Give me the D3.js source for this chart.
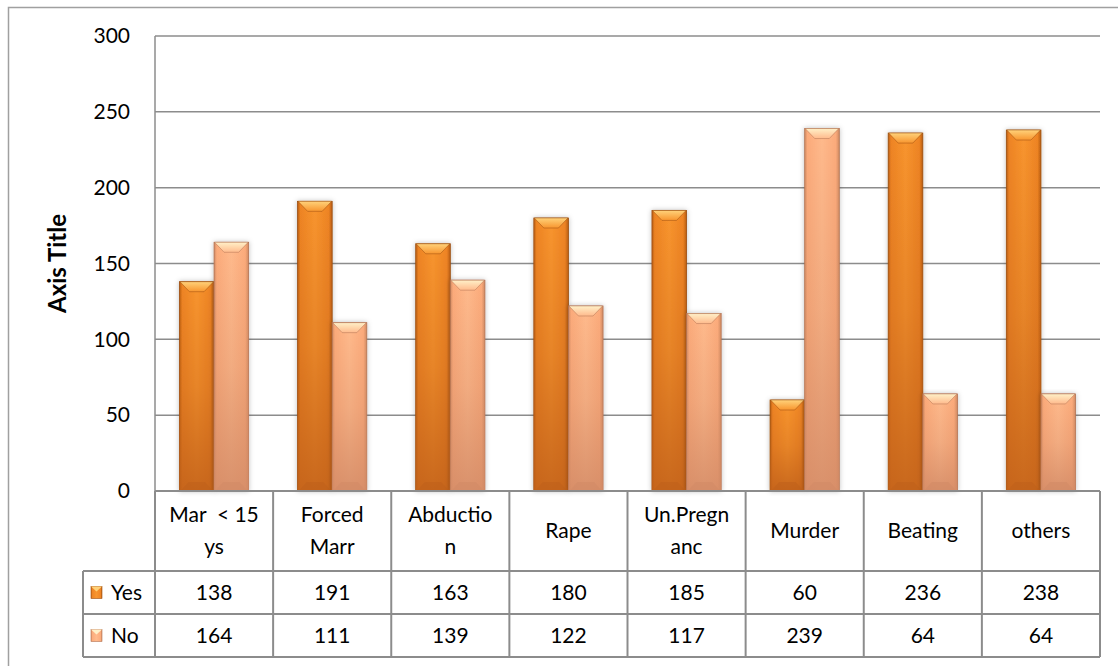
<!DOCTYPE html>
<html>
<head>
<meta charset="utf-8">
<script src="https://cdn.jsdelivr.net/npm/d3@7"></script>
<style>
  body { margin: 0; background: #fff; }
  svg text { font-family: Lato, "Open Sans", sans-serif; fill: #000; white-space: pre; }
</style>
</head>
<body>
<div id="chart"></div>
<script>
// data
var categories = ["Mar  < 15 ys", "Forced Marr", "Abduction", "Rape", "Un.Pregnanc", "Murder", "Beating", "others"];
var catLines = [["Mar  < 15", "ys"], ["Forced", "Marr"], ["Abductio", "n"], ["Rape"], ["Un.Pregn", "anc"], ["Murder"], ["Beating"], ["others"]];
var series = ["Yes", "No"];
var yesValues = [138, 191, 163, 180, 185, 60, 236, 238];
var noValues = [164, 111, 139, 122, 117, 239, 64, 64];
var yTicks = [0, 50, 100, 150, 200, 250, 300];

var w = 1118, h = 666;
var plot = {left: 155, right: 1100, top: 36, bottom: 491};
var gray = "#8c8c8c";
var fs = 21;

var svg = d3.select("#chart").append("svg")
    .attr("width", w)
    .attr("height", h);

var defs = svg.append("defs");

// side shading + top/bottom gradients for each series
var pal = {
  Yes: {light: "#f8952e", mid: "#ee8424", dark: "#b85d12", edge: "#9c4e10", top: "#ffd27a", low: "#c0601a"},
  No:  {light: "#ffba8c", mid: "#fcab7b", dark: "#cf8a62", edge: "#b27252", top: "#fff0c8", low: "#d28a66"}
};
series.forEach(function(s){
  var p = pal[s];
  var g = defs.append("linearGradient").attr("id", "side" + s)
      .attr("x1", 0).attr("x2", 1).attr("y1", 0).attr("y2", 0);
  g.append("stop").attr("offset", "0").attr("stop-color", p.dark);
  g.append("stop").attr("offset", "0.08").attr("stop-color", p.mid);
  g.append("stop").attr("offset", "0.5").attr("stop-color", p.light);
  g.append("stop").attr("offset", "0.9").attr("stop-color", p.mid);
  g.append("stop").attr("offset", "1").attr("stop-color", p.dark);
  var v = defs.append("linearGradient").attr("id", "vert" + s)
      .attr("x1", 0).attr("x2", 0).attr("y1", 0).attr("y2", 1);
  v.append("stop").attr("offset", "0").attr("stop-color", p.low).attr("stop-opacity", 0);
  v.append("stop").attr("offset", "0.5").attr("stop-color", p.low).attr("stop-opacity", 0.3);
  v.append("stop").attr("offset", "1").attr("stop-color", p.low).attr("stop-opacity", 0.85);
  var t = defs.append("linearGradient").attr("id", "top" + s)
      .attr("x1", 0).attr("x2", 0).attr("y1", 0).attr("y2", 1);
  t.append("stop").attr("offset", "0").attr("stop-color", p.top);
  t.append("stop").attr("offset", "1").attr("stop-color", p.light);
});

var shadow = defs.append("filter").attr("id", "shadow")
    .attr("x", "-20%").attr("y", "-5%").attr("width", "140%").attr("height", "110%");
shadow.append("feDropShadow").attr("dx", 0).attr("dy", 0).attr("stdDeviation", 2.5)
    .attr("flood-color", "#000").attr("flood-opacity", 0.25);

// outer chart border
svg.append("rect")
    .attr("x", 8.5).attr("y", 7.5)
    .attr("width", 1130).attr("height", 700)
    .attr("fill", "none").attr("stroke", "#a0a0a0").attr("stroke-width", 1.5);

var x = d3.scaleBand().domain(categories).range([plot.left, plot.right]).paddingInner(0).paddingOuter(0);
var x1 = d3.scaleBand().domain(series)
    .range([x.bandwidth() * 0.207, x.bandwidth() * 0.793]).padding(0);
var y = d3.scaleLinear().domain([0, 300]).range([plot.bottom, plot.top]);

// gridlines
svg.append("g").selectAll("line")
  .data(yTicks.filter(function(d){ return d > 0; }))
  .enter().append("line")
    .attr("x1", plot.left).attr("x2", plot.right)
    .attr("y1", function(d){ return y(d); })
    .attr("y2", function(d){ return y(d); })
    .attr("stroke", gray).attr("stroke-width", 1.5);

// y axis line
svg.append("line")
    .attr("x1", plot.left).attr("x2", plot.left)
    .attr("y1", plot.top).attr("y2", plot.bottom)
    .attr("stroke", gray).attr("stroke-width", 1.5);

// y tick labels
var yAxis = d3.axisLeft(y).tickValues(yTicks).tickSize(0).tickPadding(25);
var yg = svg.append("g").attr("transform", "translate(" + plot.left + ",0)").call(yAxis);
yg.select(".domain").remove();
yg.selectAll("text")
    .style("font-family", "Lato, sans-serif")
    .attr("font-size", fs).attr("fill", "#000");

// axis title
svg.append("text")
    .attr("transform", "translate(66," + ((plot.top + plot.bottom) / 2) + ") rotate(-90)")
    .attr("text-anchor", "middle")
    .attr("font-size", 24)
    .attr("font-weight", "bold")
    .text("Axis Title");

// bars
var rows = categories.map(function(c, i){
  return [{cat: c, s: "Yes", v: yesValues[i]}, {cat: c, s: "No", v: noValues[i]}];
});
var bars = svg.append("g").selectAll("g.cat")
  .data(rows).enter().append("g")
    .attr("transform", function(d){ return "translate(" + x(d[0].cat) + ",0)"; })
  .selectAll("g.bar")
  .data(function(d){ return d; }).enter().append("g");

bars.append("rect")
    .attr("x", function(d){ return x1(d.s); })
    .attr("y", function(d){ return y(d.v); })
    .attr("width", x1.bandwidth())
    .attr("height", function(d){ return plot.bottom - y(d.v); })
    .attr("fill", function(d){ return "url(#side" + d.s + ")"; })
    .attr("stroke", function(d){ return pal[d.s].edge; })
    .attr("stroke-width", 0.8)
    .attr("filter", "url(#shadow)");

bars.append("rect")
    .attr("x", function(d){ return x1(d.s); })
    .attr("y", function(d){ return y(d.v); })
    .attr("width", x1.bandwidth())
    .attr("height", function(d){ return plot.bottom - y(d.v); })
    .attr("fill", function(d){ return "url(#vert" + d.s + ")"; });

// bevel at the top
bars.append("path")
    .attr("d", function(d){
      var x0 = x1(d.s), bw = x1.bandwidth(), t = y(d.v);
      return "M" + (x0 + 0.5) + "," + t + "L" + (x0 + bw - 0.5) + "," + t +
             "L" + (x0 + bw - 10) + "," + (t + 10) + "L" + (x0 + 10) + "," + (t + 10) + "Z";
    })
    .attr("fill", function(d){ return "url(#top" + d.s + ")"; })
    .attr("stroke", function(d){ return pal[d.s].edge; })
    .attr("stroke-width", 0.5);

// bevel at the bottom
bars.append("path")
    .attr("d", function(d){
      var x0 = x1(d.s), bw = x1.bandwidth(), b = plot.bottom;
      return "M" + (x0 + 1) + "," + b + "L" + (x0 + bw - 1) + "," + b +
             "L" + (x0 + bw - 9) + "," + (b - 9) + "L" + (x0 + 9) + "," + (b - 9) + "Z";
    })
    .attr("fill", function(d){ return pal[d.s].low; })
    .attr("opacity", 0.6);

// data table
var rowY = {catTop: plot.bottom, yesTop: 571, noTop: 614, bottom: 657};
var tableLeft = 83;
var tg = svg.append("g");

// horizontal lines
[[plot.left, rowY.catTop], [tableLeft, rowY.yesTop], [tableLeft, rowY.noTop], [tableLeft, rowY.bottom]]
  .forEach(function(p){
    tg.append("line")
      .attr("x1", p[0]).attr("x2", plot.right)
      .attr("y1", p[1]).attr("y2", p[1])
      .attr("stroke", gray).attr("stroke-width", 2);
  });

// vertical lines
var bounds = categories.map(function(c){ return x(c); }).concat([plot.right]);
tg.selectAll("line.v").data(bounds).enter().append("line")
    .attr("x1", function(d){ return d; }).attr("x2", function(d){ return d; })
    .attr("y1", rowY.catTop).attr("y2", rowY.bottom)
    .attr("stroke", gray).attr("stroke-width", 2);
tg.append("line")
    .attr("x1", tableLeft).attr("x2", tableLeft)
    .attr("y1", rowY.yesTop).attr("y2", rowY.bottom)
    .attr("stroke", gray).attr("stroke-width", 2);

// category labels
var catText = tg.selectAll("text.cat").data(categories).enter().append("text")
    .attr("text-anchor", "middle")
    .attr("font-size", fs);
catText.each(function(c, i){
  var lines = catLines[i];
  var cx = x(c) + x.bandwidth() / 2;
  var mid = (rowY.catTop + rowY.yesTop) / 2;
  var lh = 32;
  var start = mid - (lines.length - 1) * lh / 2;
  var t = d3.select(this);
  lines.forEach(function(l, k){
    t.append("tspan").attr("x", cx).attr("y", start + k * lh).attr("dy", "0.35em").text(l);
  });
});

// value rows
[{s: "Yes", vals: yesValues, top: rowY.yesTop, bot: rowY.noTop},
 {s: "No", vals: noValues, top: rowY.noTop, bot: rowY.bottom}].forEach(function(r){
  var cy = (r.top + r.bot) / 2;
  tg.selectAll("text.v" + r.s).data(r.vals).enter().append("text")
      .attr("x", function(d, i){ return x(categories[i]) + x.bandwidth() / 2; })
      .attr("y", cy).attr("dy", "0.35em")
      .attr("text-anchor", "middle")
      .attr("font-size", fs)
      .text(function(d){ return d; });
  // legend key
  var p = pal[r.s];
  tg.append("rect")
      .attr("x", 91).attr("y", cy - 6).attr("width", 11).attr("height", 12)
      .attr("fill", "url(#side" + r.s + ")")
      .attr("stroke", p.edge).attr("stroke-width", 0.6);
  tg.append("path")
      .attr("d", "M91," + (cy - 6) + "L102," + (cy - 6) + "L96.5," + (cy - 1) + "Z")
      .attr("fill", p.top);
  tg.append("text")
      .attr("x", 111).attr("y", cy).attr("dy", "0.35em")
      .attr("font-size", fs)
      .text(r.s);
});
</script>
</body>
</html>
